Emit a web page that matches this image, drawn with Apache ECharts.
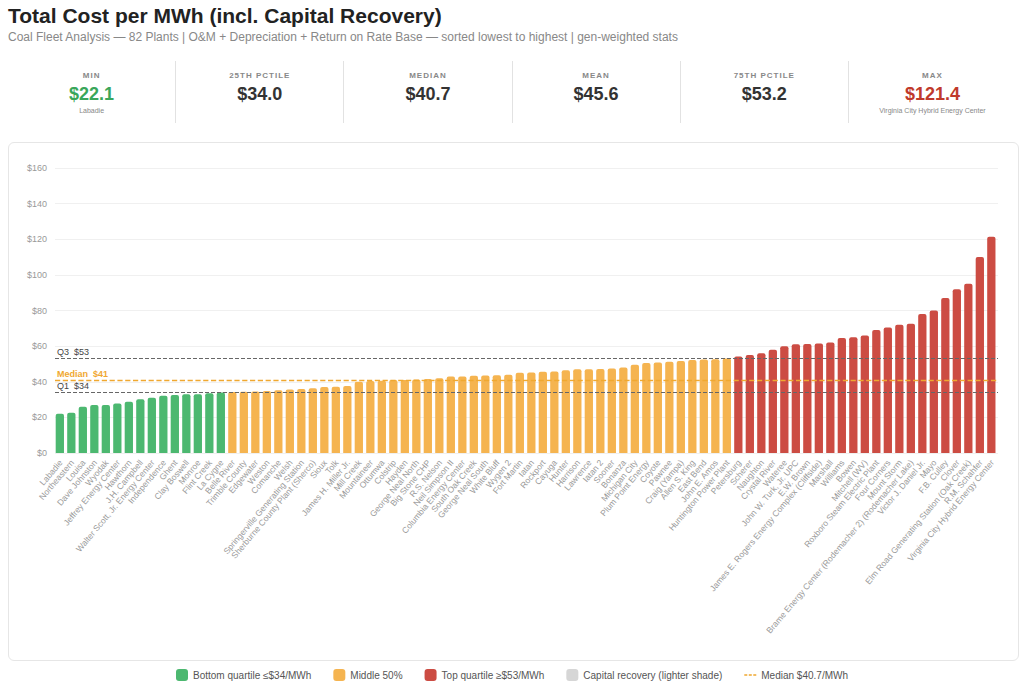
<!DOCTYPE html>
<html>
<head>
<meta charset="utf-8">
<script src="https://cdn.jsdelivr.net/npm/echarts@6/dist/echarts.min.js"></script>
<style>
  body { margin: 0; font-family: "Liberation Sans", Arial, sans-serif; background: #fff; width: 1024px; height: 691px; overflow: hidden; position: relative; }
  h1 { position: absolute; left: 8px; top: 4px; margin: 0; font-size: 21px; font-weight: bold; color: #222; }
  .sub { position: absolute; left: 8px; top: 30px; font-size: 12px; color: #888; }
  .cards { position: absolute; left: 8px; top: 61px; width: 1008px; height: 62px; display: flex; }
  .card { flex: 1; text-align: center; border-left: 1px solid #e2e2e2; }
  .card:first-child { border-left: none; }
  .lab { font-size: 8px; letter-spacing: 1px; color: #888; font-weight: bold; margin-top: 10px; }
  .val { font-size: 18px; font-weight: bold; color: #333; margin-top: 4px; }
  .note { font-size: 7px; color: #888; margin-top: 2px; }
  .panel { position: absolute; left: 8px; top: 142px; width: 1009px; height: 517px; border: 1px solid #e6e6e6; border-radius: 6px; }
  #chart { position: absolute; left: 0; top: 142px; width: 1024px; height: 549px; }
</style>
</head>
<body>
<h1>Total Cost per MWh (incl. Capital Recovery)</h1>
<div class="sub">Coal Fleet Analysis — 82 Plants | O&amp;M + Depreciation + Return on Rate Base — sorted lowest to highest | gen-weighted stats</div>
<div class="cards">
  <div class="card"><div class="lab">MIN</div><div class="val" style="color:#3aa65a">$22.1</div><div class="note">Labadie</div></div>
  <div class="card"><div class="lab">25TH PCTILE</div><div class="val">$34.0</div></div>
  <div class="card"><div class="lab">MEDIAN</div><div class="val">$40.7</div></div>
  <div class="card"><div class="lab">MEAN</div><div class="val">$45.6</div></div>
  <div class="card"><div class="lab">75TH PCTILE</div><div class="val">$53.2</div></div>
  <div class="card"><div class="lab">MAX</div><div class="val" style="color:#c0392b">$121.4</div><div class="note">Virginia City Hybrid Energy Center</div></div>
</div>
<div class="panel"></div>
<div id="chart"></div>
<script>
const plants = ['Labadie','Northeastern','Louisa','Dave Johnston','Wyodak','Jeffrey Energy Center','Hawthorn','J.H. Campbell','Walter Scott, Jr. Energy Center','Independence','Ghent','Clay Boswell','Monroe','Flint Creek',
  'La Cygne','Belle River','Trimble County','Edgewater','Weston','Comanche','Welsh','Springerville Generating Station','Sherburne County Plant (Sherco)','Sioux','Tolk','James H. Miller Jr.','Mill Creek','Mountaineer','Ottumwa','Colstrip','Hayden','George Neal North','Big Stone CHP','R.S. Nelson','Neil Simpson II','Columbia Energy Center','South Oak Creek','George Neal South','White Bluff','Wygen 2','Fort Martin','Iatan','Rockport','Cayuga','Hunter','Harrison','Lawrence','Iatan 2','Sooner','Bonanza','Michigan City','Plum Point Energy','Coyote','Pawnee','Craig (Yampa)','Allen S. King','East Bend','John E. Amos','Huntington Power Plant',
  'Petersburg','Scherer','Naughton','Crystal River','Wateree','John W. Turk, Jr. UPC','E.W. Brown','James E. Rogers Energy Complex (Cliffside)','Marshall','Williams','Bowen','Mitchell (WV)','Roxboro Steam Electric Plant','Four Corners','Mount Storm','Brame Energy Center (Rodemacher 2) (Rodemacher Lake)','Victor J. Daniel Jr.','Mayo','F.B. Culley','Clover','Elm Road Generating Station (Oak Creek)','R.M. Schahfer','Virginia City Hybrid Energy Center'];
const costs = [22.1,22.6,26.0,27.0,27.0,27.8,28.8,30.2,31.0,32.2,32.6,33.0,33.0,33.5,
  34.0,34.2,34.4,34.5,34.8,35.2,35.6,36.0,36.3,37.0,37.2,37.6,40.0,40.4,40.6,41.0,41.0,41.2,41.5,42.0,43.0,43.0,43.3,43.5,43.6,44.0,45.0,45.2,45.6,45.8,46.5,47.0,47.0,47.2,47.5,48.0,49.5,50.5,50.8,51.2,51.6,52.2,52.5,52.6,53.0,
  54.2,55.0,56.0,58.0,60.0,61.0,61.2,61.5,62.0,64.5,65.0,66.0,69.0,70.5,72.0,72.5,78.0,80.0,87.0,92.0,95.0,110.0,121.4];
const q1 = 34.0, median = 40.7, q3 = 53.2;
const yTicks = [0, 20, 40, 60, 80, 100, 120, 140, 160];

const lowData = costs.map(v => v <= q1 ? v : '-');
const midData = costs.map(v => v > q1 && v <= q3 ? v : '-');
const highData = costs.map(v => v > q3 ? v : '-');

const chart = echarts.init(document.getElementById('chart'), null, { renderer: 'svg' });
const lineLabel = (text, color, bold) => ({ position: 'insideStartTop', formatter: text, color: color, fontSize: 9, fontWeight: bold ? 'bold' : 'normal', distance: 2 });
chart.setOption({
  animation: false,
  textStyle: { fontFamily: 'Liberation Sans, Arial, sans-serif' },
  grid: { left: 55, right: 26, top: 26, bottom: 238 },
  legend: {
    bottom: 5, left: 'center', itemWidth: 12, itemHeight: 12, itemGap: 22,
    textStyle: { fontSize: 10, color: '#555' },
    data: [
      { name: 'Bottom quartile ≤$34/MWh', icon: 'roundRect' },
      { name: 'Middle 50%', icon: 'roundRect' },
      { name: 'Top quartile ≥$53/MWh', icon: 'roundRect' },
      { name: 'Capital recovery (lighter shade)', icon: 'roundRect' },
      { name: 'Median $40.7/MWh', icon: 'path://M0,5 L4,5 L4,7 L0,7 Z M6,5 L10,5 L10,7 L6,7 Z M12,5 L16,5 L16,7 L12,7 Z', itemWidth: 18 }
    ]
  },
  xAxis: {
    type: 'category', data: plants,
    axisLine: { show: false }, axisTick: { show: false },
    axisLabel: { rotate: 50, interval: 0, fontSize: 8.5, color: '#999' }
  },
  yAxis: {
    type: 'value', min: 0, max: 160, interval: 20,
    axisLabel: { formatter: v => yTicks.includes(v) ? '$' + v : '', fontSize: 9, color: '#999' },
    splitLine: { lineStyle: { color: '#f0f0f0' } }
  },
  series: [
    { name: 'Bottom quartile ≤$34/MWh', type: 'bar', stack: 'c', data: lowData, barWidth: '72%', itemStyle: { color: '#4cb870', borderRadius: [2, 2, 0, 0] } },
    { name: 'Middle 50%', type: 'bar', stack: 'c', data: midData, itemStyle: { color: '#f5b450', borderRadius: [2, 2, 0, 0] } },
    { name: 'Top quartile ≥$53/MWh', type: 'bar', stack: 'c', data: highData, itemStyle: { color: '#cc4c43', borderRadius: [2, 2, 0, 0] },
      markLine: {
        symbol: 'none', silent: true,
        data: [
          { yAxis: q3, lineStyle: { color: '#666', type: 'dashed', width: 1 }, label: lineLabel('Q3  $53', '#444') },
          { yAxis: median, lineStyle: { color: '#f0a830', type: 'dashed', width: 1.3 }, label: lineLabel('Median  $41', '#f0a830', true) },
          { yAxis: q1, lineStyle: { color: '#666', type: 'dashed', width: 1 }, label: lineLabel('Q1  $34', '#444') }
        ]
      }
    },
    { name: 'Capital recovery (lighter shade)', type: 'bar', data: [], itemStyle: { color: '#d6d6d6' } },
    { name: 'Median $40.7/MWh', type: 'line', data: [], itemStyle: { color: '#f0a830' } }
  ]
});
</script>
</body>
</html>
